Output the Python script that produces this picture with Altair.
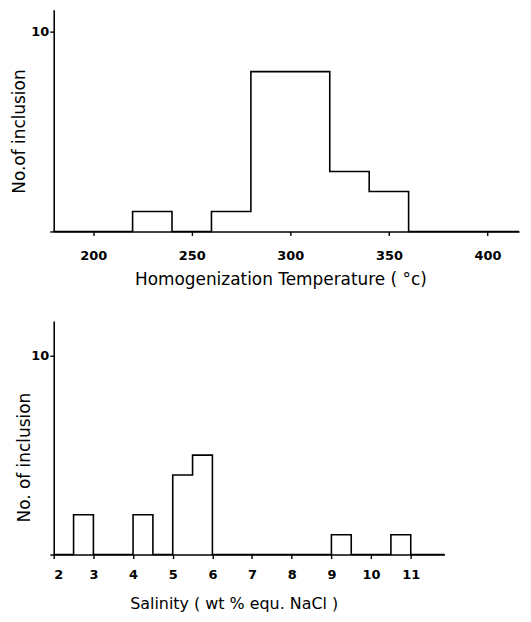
import altair as alt
import pandas as pd

# Homogenization temperature histogram (bins of 20 °C)
temp_bin_start = [220, 260, 280, 300, 320, 340]
temp_counts = [1, 1, 8, 8, 3, 2]
temp_bin_width = 20
temp_ticks = [200, 250, 300, 350, 400]
temp_domain = [180, 416]

# Salinity histogram (bins of 0.5 wt%)
sal_bin_start = [2.5, 4.0, 5.0, 5.5, 9.0, 10.5]
sal_counts = [2, 2, 4, 5, 1, 1]
sal_bin_width = 0.5
sal_ticks = [2, 3, 4, 5, 6, 7, 8, 9, 10, 11]
sal_domain = [2, 11.85]

y_ticks = [0, 10]


def step_points(starts, counts, width, lo, hi):
    pts = [(lo, 0)]
    for i, (s, c) in enumerate(zip(starts, counts)):
        pts.append((s, c))
        end = s + width
        nxt = starts[i + 1] if i + 1 < len(starts) else None
        if nxt is None or abs(nxt - end) > 1e-9:
            pts.append((end, 0))
    pts.append((hi, 0))
    return pd.DataFrame(pts, columns=["x", "n"])


def panel(df, xdom, ydom, xticks, xtitle, ytitle, w, h, lab_pad, tit_pad,
          xt_size, xtx, ytx, yty):
    return alt.Chart(df).mark_line(
        interpolate="step-after", color="black", strokeWidth=1.6
    ).encode(
        x=alt.X("x:Q", scale=alt.Scale(domain=xdom, nice=False, zero=False),
                axis=alt.Axis(values=xticks, title=xtitle, labelPadding=lab_pad,
                              titlePadding=tit_pad, titleFontSize=xt_size,
                              titleX=xtx, format="d", grid=False)),
        y=alt.Y("n:Q", scale=alt.Scale(domain=ydom, nice=False),
                axis=alt.Axis(values=y_ticks, labelExpr="datum.value == 10 ? '10' : ''",
                              title=ytitle, titleX=ytx, titleY=yty, titleFontSize=17,
                              grid=False, labelPadding=1)),
    ).properties(width=w, height=h)


top = panel(step_points(temp_bin_start, temp_counts, temp_bin_width, *temp_domain),
            temp_domain, [0, 11.1], temp_ticks,
            "Homogenization Temperature ( °c)", "No.of inclusion",
            468, 223, 14, 9, 17, 228, -25, 122)

bottom = panel(step_points(sal_bin_start, sal_counts, sal_bin_width, *sal_domain),
               sal_domain, [0, 11.75], sal_ticks,
               "Salinity ( wt % equ. NaCl )", "No. of inclusion",
               393, 235, 10, 14, 16, 181, -20, 137)

chart = alt.vconcat(top, bottom, spacing=34).properties(
    padding={"left": 3, "top": 0, "right": 0, "bottom": 0}
).configure_view(
    stroke=None
).configure_axis(
    domainColor="black", domainWidth=1.6, tickColor="black", tickSize=4, tickWidth=1.4,
    labelColor="black", titleColor="black",
    labelFont="DejaVu Sans", labelFontSize=13, labelFontWeight="bold",
    titleFont="DejaVu Sans", titleFontWeight="normal",
)

chart.save("out.html", embed_options={"renderer": "svg", "actions": False})
